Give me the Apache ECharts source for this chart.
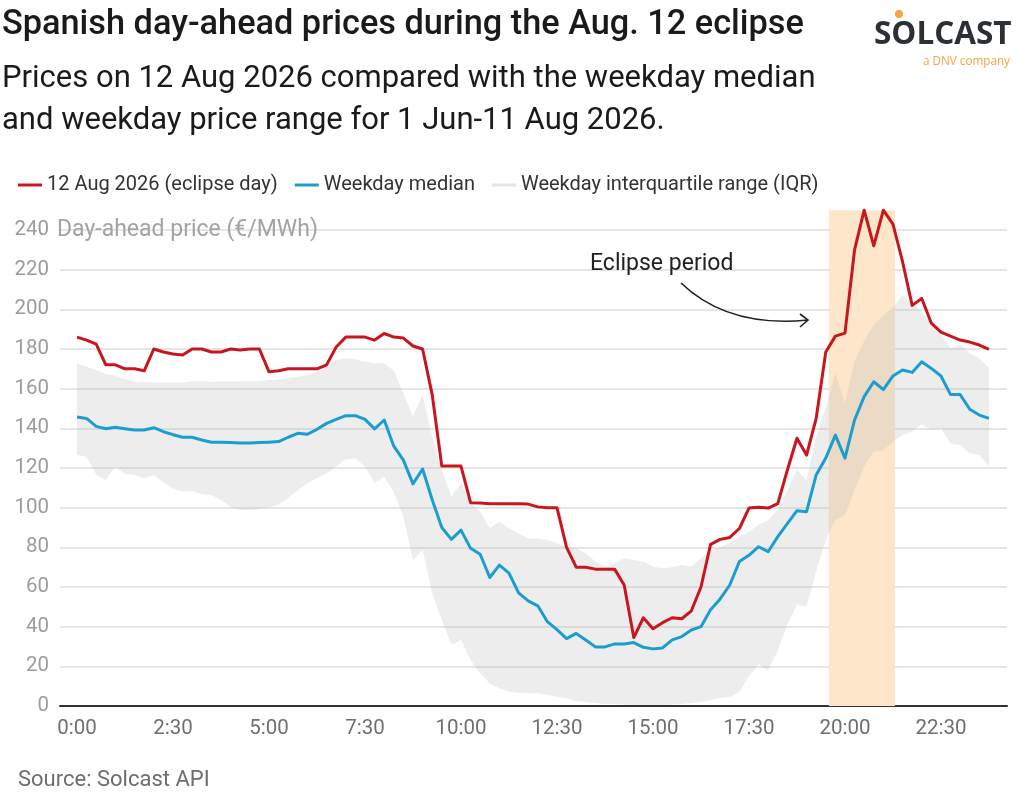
<!DOCTYPE html>
<html>
<head>
<meta charset="utf-8">
<script src="https://cdn.jsdelivr.net/npm/echarts@6/dist/echarts.min.js"></script>
<style>
html,body{margin:0;padding:0;background:#fff;}
#chart{width:1024px;height:809px;}
</style>
</head>
<body>
<div id="chart"></div>
<script>
// ---------------- data ----------------
const titleText = 'Spanish day-ahead prices during the Aug. 12 eclipse';
const subtitleText = 'Prices on 12 Aug 2026 compared with the weekday median\nand weekday price range for 1 Jun-11 Aug 2026.';
const sourceText = 'Source: Solcast API';
const yAxisName = 'Day-ahead price (€/MWh)';
const seriesNames = ['12 Aug 2026 (eclipse day)', 'Weekday median', 'Weekday interquartile range (IQR)'];

// 15-minute slots, expressed in hours (0:00 ... 23:45)
const hours = Array.from({length: 96}, (_, i) => i / 4);
const xTickHours = [0, 2.5, 5, 7.5, 10, 12.5, 15, 17.5, 20, 22.5];

const eclipseDay = [
  186, 184.5, 182.5, 172, 172, 170, 170, 169, 180, 178.5, 177.5, 177,
  180, 180, 178.5, 178.5, 180, 179.5, 180, 180, 168.5, 169, 170, 170,
  170, 170, 172, 181, 186, 186, 186, 184.5, 187.8, 186, 185.5, 181.5,
  180, 157, 121, 121, 121, 102.5, 102.3, 102, 102, 102, 102, 101.8,
  100.4, 100, 100, 80, 70, 70, 69, 69, 69, 61, 34.5, 44.5,
  39, 42, 44.5, 44, 48, 60, 81.5, 84, 85, 89.5, 99.8, 100.2,
  99.8, 102, 119, 135, 126.5, 145, 178.5, 186.5, 188, 230, 250, 232,
  250, 243, 224, 202, 205.5, 193, 188.5, 186.5, 184.5, 183.5, 182, 179.8
];

const weekdayMedian = [
  145.7, 145, 141, 139.8, 140.5, 139.8, 139.2, 139.2, 140.3, 138.3, 136.8, 135.5,
  135.5, 134.1, 133, 133, 132.8, 132.6, 132.6, 132.8, 133, 133.3, 135.5, 137.5,
  137, 139.5, 142.5, 144.5, 146.4, 146.4, 144.5, 139.7, 144.2, 131, 124, 112,
  119.5, 104, 90, 84, 88.7, 79.5, 76.5, 64.8, 71, 67, 57, 53,
  50.5, 42.5, 38.5, 34, 36.6, 33.3, 29.8, 29.8, 31.3, 31.3, 32, 29.6,
  28.8, 29.3, 33.3, 35, 38.3, 40, 48.5, 54, 61, 72.8, 76, 80.3,
  77.8, 85.4, 92, 98.5, 98, 116.5, 125, 136.6, 125, 144.2, 156, 163.5,
  159.5, 166.4, 169.4, 168.2, 173.6, 170.2, 166.4, 157, 157, 149.6, 146.7, 145
];

const iqrHigh = [
  172.8, 171, 169.4, 167.4, 166.4, 164.7, 163.5, 163.3, 163.1, 163, 163, 163.1,
  163.8, 163.8, 163.5, 163.6, 163.6, 163.6, 163.8, 163.8, 164.4, 164.7, 165.2, 166,
  166.9, 168.6, 171.9, 174.5, 175.3, 174.8, 173.6, 172.8, 172.8, 169, 157.6, 146,
  156.8, 135.8, 119, 105.5, 112.3, 102.2, 98, 89.6, 92.9, 89.6, 87.1, 84.5,
  84.5, 83.7, 82, 80.4, 79.5, 77, 72.8, 70.2, 71.9, 74.5, 73.6, 72.8,
  70.2, 69.4, 69.9, 71.1, 70.2, 74.5, 78, 80, 82, 85.4, 87.9, 91.3,
  93.8, 98.8, 108.9, 119, 114, 135.8, 151, 167.7, 152.6, 174, 184, 192,
  197, 201, 207, 203, 198.8, 192.9, 187.9, 180.3, 182, 177.8, 175.3, 170.3
];

const iqrLow = [
  126.6, 125.7, 116.5, 114, 120.7, 117, 116.5, 114.8, 116.5, 112.8, 109.7, 108.1,
  108.3, 106.9, 106.4, 103.9, 100.5, 98.8, 98.8, 99.2, 100.2, 101.3, 104.7, 108.9,
  112.3, 114.8, 117.3, 120.7, 124.4, 124.9, 120.7, 112.3, 115.6, 108, 95.5, 73.6,
  78.7, 56.8, 43.4, 30.8, 33.3, 23.2, 16.5, 11.4, 8.9, 7.2, 6.7, 6.4,
  6.4, 5.5, 4.7, 3.9, 2.5, 2, 1.5, 1, 1, 0.8, 0.5, 0.5,
  0.5, 0.5, 0.8, 1, 1.5, 2, 3, 4, 4.5, 7, 15, 21,
  18, 28, 41, 51, 50, 68, 84, 93.8, 96.3, 108.9, 120.7, 128.2,
  129, 133.3, 136.6, 138.3, 142.2, 139.2, 140, 132.4, 131.6, 127.4, 126.6, 120.7
];

// eclipse period (hours) and the height of its shaded band (€/MWh)
const eclipseStart = 19.58;
const eclipseEnd = 21.3;
const eclipseTop = 250;

// ---------------- chart ----------------
const chart = echarts.init(document.getElementById('chart'), null, {renderer: 'canvas'});
const FONT = 'Roboto, "Noto Sans", sans-serif';
const RED = '#c8161e';
const BLUE = '#1b9dd0';
const IQR_FILL = 'rgba(185,185,185,0.26)';

function fmtHour(v) {
  const h = Math.floor(v + 1e-6);
  const m = Math.round((v - h) * 60);
  return h + ':' + (m < 10 ? '0' + m : m);
}

const option = {
  backgroundColor: '#ffffff',
  animation: false,
  textStyle: {fontFamily: FONT},
  title: [
    {text: titleText, left: -3, top: 3,
     textStyle: {fontFamily: FONT, fontSize: 34.3, fontWeight: 500, color: '#1a1a1a'}},
    {text: subtitleText, left: -3, top: 53,
     textStyle: {fontFamily: FONT, fontSize: 31, fontWeight: 400, color: '#1a1a1a', lineHeight: 42}},
    {text: sourceText, left: 13, top: 764,
     textStyle: {fontFamily: FONT, fontSize: 22, fontWeight: 400, color: '#6e6e6e'}}
  ],
  legend: {
    left: 13, top: 170,
    icon: 'rect', itemWidth: 24, itemHeight: 3, itemGap: 17,
    textStyle: {fontFamily: FONT, fontSize: 20, color: '#333'},
    data: [
      {name: seriesNames[0], itemStyle: {color: RED}},
      {name: seriesNames[1], itemStyle: {color: BLUE}},
      {name: seriesNames[2], itemStyle: {color: '#e6e6e6'}}
    ]
  },
  grid: {left: 60, right: 17, top: 230, bottom: 103, containLabel: false},
  xAxis: {
    type: 'value',
    min: -0.443, max: 24.22,
    axisLine: {show: true, lineStyle: {color: '#333', width: 2}},
    axisTick: {show: false},
    splitLine: {show: false},
    axisLabel: {
      customValues: xTickHours,
      formatter: v => fmtHour(v),
      fontFamily: FONT, fontSize: 20.5, color: '#6f6f6f', margin: 12
    }
  },
  yAxis: {
    type: 'value', min: 0, max: 240, interval: 20,
    axisLine: {show: false}, axisTick: {show: false},
    splitLine: {show: true, lineStyle: {color: '#dedede', width: 1.5}},
    axisLabel: {fontFamily: FONT, fontSize: 20.5, color: '#9c9c9c', margin: 11}
  },
  graphic: [
    {type: 'text', x: 57, y: 230, z: 10,
     style: {text: yAxisName, font: '400 23px ' + FONT, fill: '#a3a3a3', textVerticalAlign: 'middle', verticalAlign: 'middle'}},
    {type: 'text', x: 590, y: 264, z: 10,
     style: {text: 'Eclipse period', font: '400 23px ' + FONT, fill: '#222', textVerticalAlign: 'middle', verticalAlign: 'middle'}},
    {type: 'bezierCurve', z: 10,
     shape: {x1: 681, y1: 283, cpx1: 728, cpy1: 328, x2: 808, y2: 320},
     style: {stroke: '#222', lineWidth: 1.6, fill: null}},
    {type: 'polyline', z: 10,
     shape: {points: [[800, 314], [808, 320], [800, 327]]},
     style: {stroke: '#222', lineWidth: 1.6, fill: null}},
    // logo
    {type: 'text', x: 874, y: 35, z: 10,
     style: {text: 'SOLCAST', font: '700 31.5px "Open Sans", Lato, sans-serif', fill: '#2b2f36', verticalAlign: 'middle', textVerticalAlign: 'middle'}},
    {type: 'circle', z: 11, shape: {cx: 899, cy: 14, r: 4}, style: {fill: '#f7a541'}},
    {type: 'text', x: 923, y: 62, z: 10,
     style: {text: 'a DNV company', font: '400 11.7px "Open Sans", sans-serif', fill: '#f5a443', verticalAlign: 'middle', textVerticalAlign: 'middle'}}
  ],
  series: [
    {
      name: 'Eclipse period', type: 'custom', z: 1, clip: false, silent: true,
      data: [[eclipseStart, eclipseEnd]],
      renderItem: (params, api) => {
        const p0 = api.coord([api.value(0), 0]);
        const p1 = api.coord([api.value(1), eclipseTop]);
        return {type: 'rect',
          shape: {x: p0[0], y: p1[1], width: p1[0] - p0[0], height: p0[1] - p1[1]},
          style: {fill: '#fde6c9'}};
      }
    },
    {
      // interquartile band drawn as one polygon through the axis scales
      name: seriesNames[2], type: 'custom', z: 2, silent: true, color: '#e6e6e6',
      data: [[0]],
      renderItem: (params, api) => {
        const pts = [];
        for (let i = 0; i < hours.length; i++) pts.push(api.coord([hours[i], iqrHigh[i]]));
        for (let i = hours.length - 1; i >= 0; i--) pts.push(api.coord([hours[i], iqrLow[i]]));
        return {type: 'polygon', shape: {points: pts}, style: {fill: IQR_FILL}};
      }
    },
    {
      name: seriesNames[1], type: 'line', z: 3, showSymbol: false, symbol: 'none',
      color: BLUE, lineStyle: {width: 3, color: BLUE, join: 'round'},
      data: hours.map((h, i) => [h, weekdayMedian[i]])
    },
    {
      name: seriesNames[0], type: 'line', z: 4, clip: false, showSymbol: false, symbol: 'none',
      color: RED, lineStyle: {width: 3, color: RED, join: 'round'},
      data: hours.map((h, i) => [h, eclipseDay[i]])
    }
  ]
};
chart.setOption(option);
</script>
</body>
</html>
